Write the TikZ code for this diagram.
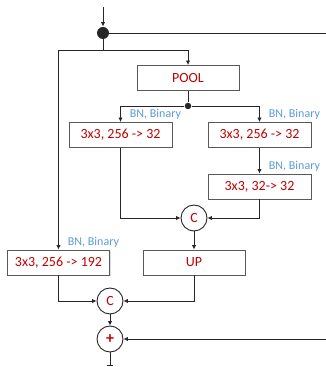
\documentclass[tikz,border=0pt]{standalone}
\usepackage{fontspec}
\setmainfont{Carlito}
\usetikzlibrary{arrows.meta, positioning, calc, shadows}
\definecolor{cred}{HTML}{C00000}
\definecolor{cblue}{HTML}{5B9BD5}
\definecolor{cline}{HTML}{262626}
\definecolor{cbox}{HTML}{595959}
\tikzset{
  every picture/.style={line width=0.9pt, x=1pt, y=1pt},
  box/.style={draw=cbox, fill=white, minimum width=102pt, minimum height=25pt, inner sep=0pt,
    text=cred, font=\fontsize{14}{16}\selectfont,
    drop shadow={opacity=0.25, shadow xshift=1pt, shadow yshift=-1pt}},
  op/.style={circle, draw=cline, fill=white, minimum size=26pt, inner sep=0pt,
    text=cred, font=\fontsize{14}{16}\selectfont},
  dot/.style={circle, fill=cline, inner sep=0pt, minimum size=#1},
  arrow/.style={-{Latex[length=4.5pt, width=4.5pt]}, draw=cline},
  link/.style={draw=cline},
  bn/.style={text=cblue, font=\fontsize{12}{14}\selectfont, inner sep=1pt, anchor=south west},
}
\begin{document}
\begin{tikzpicture}
  \useasboundingbox (0,0) rectangle (326,367);
  % input and split
  \coordinate (in) at (103,360);
  \node[dot=12pt] (split) at (103,334) {};
  \coordinate (fork) at (103,317);
  \coordinate (redge) at (327,0);
  % pooling branch
  \node[box] (pool) at (188,289) {POOL};
  \node[dot=6.5pt] (pdot) at (188,261) {};
  \node[box, minimum width=103pt] (b1) at (120.5,232) {3x3, 256 -> 32};
  \node[box, minimum width=103pt] (b2) at (259.5,232) {3x3, 256 -> 32};
  \node[box, minimum width=103pt] (b3) at (259.5,180.5) {3x3, 32-> 32};
  \node[op] (c1) at (194,149) {C};
  \node[box] (up) at (194,104.5) {UP};
  % direct branch
  \node[box] (b4) at (58.5,104.5) {3x3, 256 -> 192};
  \node[op] (c2) at (110,66) {C};
  \node[op, font=\fontsize{16}{16}\selectfont\bfseries] (sum) at (110,28) {+};
  \coordinate (out) at (110,1);
  % connectors
  \draw[arrow] (in) -- (split);
  \draw[link] (split) -- (fork);
  \draw[arrow] (fork) -| (pool.north);
  \draw[arrow] (fork) -| (b4.north);
  \draw[link] (pool) -- (pdot);
  \foreach \b in {b1,b2} \draw[arrow] (pdot) -| (\b.north);
  \draw[arrow] (b2) -- (b3);
  \draw[arrow] (b1.south) |- (c1.west);
  \draw[arrow] (b3.south) |- (c1.east);
  \draw[arrow] (c1) -- (up);
  \draw[arrow] (b4.south) |- (c2.west);
  \draw[arrow] (up.south) |- (c2.east);
  \draw[arrow] (c2) -- (sum);
  \draw[arrow] (split) -- (split -| redge) |- (sum.east);
  \draw[-{Bar[width=6pt]}, draw=cline] (sum) -- (out);
  % labels
  \foreach \b in {b1,b2,b3,b4}
    \node[bn] at ([xshift=8pt, yshift=1pt]\b.north) {BN, Binary};
\end{tikzpicture}
\end{document}
